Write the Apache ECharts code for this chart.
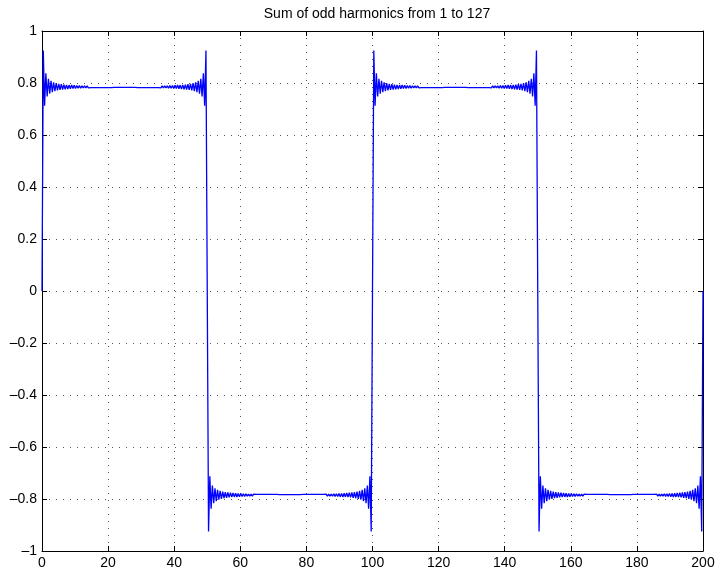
<!DOCTYPE html>
<html>
<head>
<meta charset="utf-8">
<title>Sum of odd harmonics</title>
<script src="https://cdn.jsdelivr.net/npm/echarts@6.0.0/dist/echarts.min.js"></script>
<style>
  html, body { margin: 0; padding: 0; background: #fff; }
  #main { width: 717px; height: 571px; }
</style>
</head>
<body>
<div id="main"></div>
<script>
// values
var titleText = 'Sum of odd harmonics from 1 to 127';
var edges = [0, 50, 100, 150, 200];      // jumps of the square wave
var plateau = 0.785;                     // flat level between jumps
var ringStep = 0.39;                     // spacing of the ringing peaks (x units)
// ringing peaks next to a jump, as offset from the plateau (first = overshoot)
var ring = [0.14, -0.072, 0.052, -0.037, 0.031, -0.026, 0.023, -0.02, 0.018, -0.016,
            0.015, -0.013, 0.012, -0.011, 0.011, -0.01, 0.009, -0.009, 0.008, -0.008,
            0.007, -0.007, 0.007, -0.006, 0.006, -0.006, 0.005, -0.005, 0.005, -0.005,
            0.004, -0.004, 0.004, -0.004, 0.004, -0.004, 0.003, -0.003, 0.003, -0.003,
            0.003, -0.003, 0.003, -0.003, 0.003, -0.003, 0.0025, -0.0025, 0.0025, -0.0025,
            0.0025, -0.0025, 0.0025, -0.0025, 0.002, -0.002, 0.002, -0.002, 0.002, -0.002,
            0.002, -0.002, 0.002, -0.002];
var xTicks = [0, 20, 40, 60, 80, 100, 120, 140, 160, 180, 200];
var yTicks = [-1, -0.8, -0.6, -0.4, -0.2, 0, 0.2, 0.4, 0.6, 0.8, 1];

// build the curve: each plateau rings up from its left jump and down into its right jump
var curve = [[edges[0], 0]];
for (var i = 0; i < edges.length - 1; i++) {
  var s = (i % 2 == 0) ? 1 : -1;
  var a = edges[i], b = edges[i + 1];
  for (var k = 0; k < ring.length; k++) {
    curve.push([a + (k + 1) * ringStep, s * (plateau + ring[k])]);
  }
  for (var k = ring.length - 1; k >= 0; k--) {
    curve.push([b - (k + 1) * ringStep, s * (plateau + ring[k])]);
  }
  curve.push([b, 0]);
}

var font = 'Liberation Sans, Arial, Helvetica, sans-serif';
var fmtY = function (v) {
  var t = String(Math.round(v * 10) / 10);
  return t.replace('-', '\u2013');
};

var baseAxis = function (pos, min, max, step, labels) {
  return {
    type: 'value',
    position: pos,
    min: min,
    max: max,
    interval: step,
    axisLine: { show: true, onZero: false, lineStyle: { color: '#000', width: 1 } },
    axisTick: { show: true, inside: true, length: 5, lineStyle: { color: '#000', width: 1 } },
    axisLabel: { show: labels, color: '#000', fontSize: 14, fontFamily: font, margin: 5 },
    splitLine: { show: false }
  };
};

var gridDots = { show: true, lineStyle: { color: '#555', width: 1, type: [1, 6] } };

var xBottom = baseAxis('bottom', xTicks[0], xTicks[xTicks.length - 1], xTicks[1] - xTicks[0], true);
xBottom.splitLine = gridDots;
var xTop = baseAxis('top', xTicks[0], xTicks[xTicks.length - 1], xTicks[1] - xTicks[0], false);

var yLeft = baseAxis('left', yTicks[0], yTicks[yTicks.length - 1], 0.2, true);
yLeft.axisLabel.formatter = fmtY;
yLeft.splitLine = gridDots;
var yRight = baseAxis('right', yTicks[0], yTicks[yTicks.length - 1], 0.2, false);

var chart = echarts.init(document.getElementById('main'), null, { renderer: 'canvas' });
chart.setOption({
  backgroundColor: '#fff',
  animation: false,
  title: {
    text: titleText,
    left: 372,
    top: 2,
    textAlign: 'center',
    textStyle: { color: '#000', fontSize: 14, fontWeight: 'normal', fontFamily: font }
  },
  grid: { left: 42, right: 14, top: 31, bottom: 20, containLabel: false, outerBoundsMode: 'none' },
  xAxis: [xBottom, xTop],
  yAxis: [yLeft, yRight],
  series: [{
    type: 'line',
    data: curve,
    showSymbol: false,
    symbol: 'none',
    lineStyle: { color: '#0000ff', width: 1.3 },
    xAxisIndex: 0,
    yAxisIndex: 0
  }]
});
</script>
</body>
</html>
